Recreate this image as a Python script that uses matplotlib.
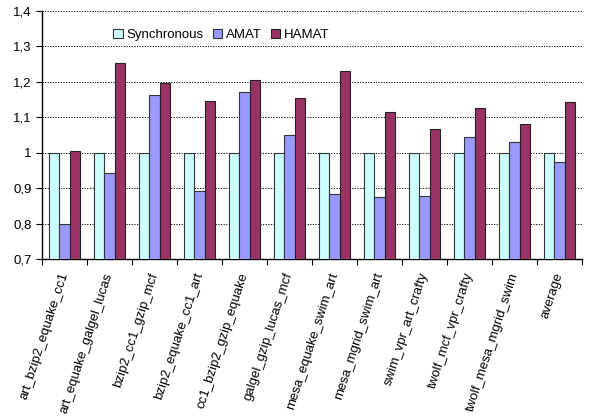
import numpy as np
import matplotlib.pyplot as plt
from matplotlib.ticker import FuncFormatter

plt.rcParams['font.family'] = ['Liberation Sans', 'DejaVu Sans']

benchmarks = ['art_bzip2_equake_cc1', 'art_equake_galgel_lucas', 'bzip2_cc1_gzip_mcf',
              'bzip2_equake_cc1_art', 'cc1_bzip2_gzip_equake', 'galgel_gzip_lucas_mcf',
              'mesa_equake_swim_art', 'mesa_mgrid_swim_art', 'swim_vpr_art_crafty',
              'twolf_mcf_vpr_crafty', 'twolf_mesa_mgrid_swim', 'average']
synchronous = [1.0] * 12
amat = [0.800, 0.943, 1.164, 0.893, 1.171, 1.049, 0.883, 0.876, 0.878, 1.044, 1.029, 0.975]
hamat = [1.005, 1.252, 1.198, 1.147, 1.205, 1.155, 1.231, 1.115, 1.066, 1.126, 1.081, 1.143]

fig = plt.figure(figsize=(5.89, 4.17), dpi=100)
ax = fig.add_axes([42 / 589, 1 - 259 / 417, 540 / 589, 248 / 417])

x = np.arange(len(benchmarks))
w = 0.23
ax.bar(x - w, synchronous, w, color='#CCFFFF', edgecolor='#333333', linewidth=0.8,
       label='Synchronous', zorder=3)
ax.bar(x, amat, w, color='#9999FF', edgecolor='#333333', linewidth=0.8, label='AMAT', zorder=3)
ax.bar(x + w, hamat, w, color='#993366', edgecolor='#222222', linewidth=0.8, label='HAMAT', zorder=3)

ax.set_xlim(-0.5, len(benchmarks) - 0.5)
ax.set_ylim(0.7, 1.4)
ax.set_yticks(np.arange(0.7, 1.41, 0.1))
ax.yaxis.set_major_formatter(FuncFormatter(
    lambda v, p: '1' if abs(v - 1) < 1e-6 else f'{v:.1f}'.replace('.', ',')))
ax.yaxis.grid(True, color='black', linestyle=(0, (1.2, 1.5)), linewidth=0.7, zorder=0)

# group separators as major ticks, names on minor ticks at the group centres
ax.set_xticks(np.arange(-0.5, len(benchmarks)), minor=False)
ax.set_xticklabels([])
ax.set_xticks(x, minor=True)
ax.set_xticklabels(benchmarks, minor=True, rotation=72, ha='right', va='center',
                   rotation_mode='anchor', fontsize=9.5)
ax.tick_params(axis='x', which='minor', length=0, pad=10)
ax.tick_params(axis='x', which='major', length=4, direction='out')
ax.tick_params(axis='y', length=4, direction='out', labelsize=9.5)

for s in ['top', 'right']:
    ax.spines[s].set_visible(False)
ax.spines['left'].set_linewidth(1)
ax.spines['bottom'].set_linewidth(1)

ax.legend(loc='upper left', bbox_to_anchor=(0.11, 0.975), ncol=3, frameon=False, fontsize=9.5,
          handlelength=0.7, handleheight=0.7, handletextpad=0.3, columnspacing=0.7)

plt.savefig('out.png', dpi=100)
